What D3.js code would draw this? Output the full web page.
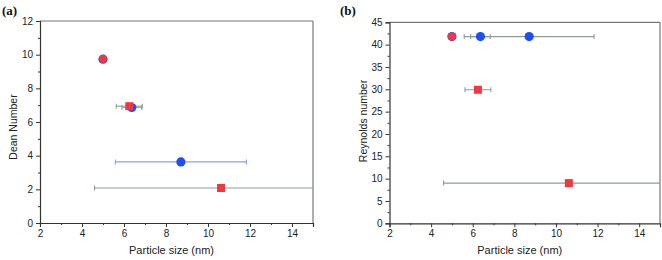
<!DOCTYPE html>
<html><head><meta charset="utf-8">
<script src="https://cdn.jsdelivr.net/npm/d3@7"></script>
<style>body{margin:0;background:#fff}svg{display:block}</style>
</head><body>
<svg id="c" width="662" height="260"></svg>
<script>
// ---- data ----
const panelTitles = ["(a)", "(b)"];
const yLabels = ["Dean Number", "Reynolds number"];
const xLabel = "Particle size (nm)";
const xTicks = [2, 4, 6, 8, 10, 12, 14];
const yTicksA = [0, 2, 4, 6, 8, 10, 12];
const yTicksB = [0, 5, 10, 15, 20, 25, 30, 35, 40, 45];

// blue series (circles): particle size, error low, error high
const blueSize = [5.0, 6.37, 8.71];
const blueLo   = [5.0, 5.9, 5.59];
const blueHi   = [5.0, 6.84, 11.83];
const blueDean = [9.73, 6.86, 3.63];
const blueRe   = [41.8, 41.8, 41.8];

// red series: particle size, error low, error high, marker shape
const redSize  = [5.0, 6.25, 10.62];
const redLo    = [5.0, 5.63, 4.6];
const redHi    = [5.0, 6.87, 16.64];
const redDean  = [9.75, 6.94, 2.08];
const redRe    = [41.8, 29.9, 9.0];
const redShape = ["circle", "square", "square"];

const svg = d3.select("#c");
const panels = [
  {l:40, r:313, t:21, b:223, yMax:12, yTicks:yTicksA, yMinor:1, blueY:blueDean, redY:redDean,
   blueErr:"#8da2e6", redErr:"#8c9c9c", title:[2,15], ylab:[13,127]},
  {l:389.5, r:660, t:22.3, b:223.3, yMax:45, yTicks:yTicksB, yMinor:2.5, blueY:blueRe, redY:redRe,
   blueErr:"#8c9c9c", redErr:"#8c9c9c", title:[340,15], ylab:[363,121]}
];

panels.forEach((p, i) => {
  const g = svg.append("g");
  const x = d3.scaleLinear().domain([2, 15]).range([p.l, p.r]);
  const y = d3.scaleLinear().domain([0, p.yMax]).range([p.b, p.t]);
  const clipId = "clip" + i;
  svg.append("clipPath").attr("id", clipId).append("rect")
    .attr("x", p.l).attr("y", p.t).attr("width", p.r - p.l).attr("height", p.b - p.t);

  // frame top/right
  g.append("line").attr("x1", p.l).attr("x2", p.r).attr("y1", p.t).attr("y2", p.t)
    .attr("stroke", "#777").attr("stroke-width", 1.2);
  g.append("line").attr("x1", p.r).attr("x2", p.r).attr("y1", p.t).attr("y2", p.b)
    .attr("stroke", "#777").attr("stroke-width", 1.2);

  // minor ticks
  const xMinor = d3.range(3, 15, 2);
  const yMin = d3.range(p.yMinor, p.yMax, p.yMinor).filter(v => !p.yTicks.includes(v));
  const xa = g.append("g").attr("transform", `translate(0,${p.b})`)
    .call(d3.axisBottom(x).tickValues(xTicks).tickSize(4).tickPadding(3).tickFormat(d3.format("d")));
  g.append("g").attr("transform", `translate(0,${p.b})`)
    .call(d3.axisBottom(x).tickValues(xMinor).tickSize(2).tickFormat(""))
    .select(".domain").remove();
  const ya = g.append("g").attr("transform", `translate(${p.l},0)`)
    .call(d3.axisLeft(y).tickValues(p.yTicks).tickSize(4).tickPadding(3).tickFormat(d3.format("d")));
  g.append("g").attr("transform", `translate(${p.l},0)`)
    .call(d3.axisLeft(y).tickValues(yMin).tickSize(2).tickFormat(""))
    .select(".domain").remove();
  g.selectAll(".domain").attr("stroke", "#333").attr("stroke-width", 1.2);
  g.selectAll(".tick line").attr("stroke", "#333");
  g.selectAll(".tick text").attr("font-family", "Liberation Sans, Arial, sans-serif")
    .attr("font-size", "10px").attr("fill", "#222");

  // labels
  g.append("text").attr("x", (p.l + p.r) / 2 - 5).attr("y", 254).attr("text-anchor", "middle")
    .attr("font-family", "Liberation Sans, Arial, sans-serif").attr("font-size", "11px")
    .attr("fill", "#222").text(xLabel);
  g.append("text").attr("transform", `translate(${p.ylab[0] + 4},${p.ylab[1]}) rotate(-90)`)
    .attr("text-anchor", "middle")
    .attr("font-family", "Liberation Sans, Arial, sans-serif").attr("font-size", "10.5px")
    .attr("fill", "#222").text(yLabels[i]);
  g.append("text").attr("x", p.title[0]).attr("y", p.title[1])
    .attr("font-family", "Liberation Serif, Times New Roman, serif").attr("font-weight", "bold")
    .attr("font-size", "13px").attr("fill", "#111").text(panelTitles[i]);

  const pg = g.append("g").attr("clip-path", `url(#${clipId})`);
  function errBars(sz, lo, hi, ys, col) {
    sz.forEach((s, k) => {
      if (hi[k] - lo[k] < 0.01) return;
      const yy = y(ys[k]);
      pg.append("line").attr("x1", x(lo[k])).attr("x2", x(hi[k])).attr("y1", yy).attr("y2", yy)
        .attr("stroke", col).attr("stroke-width", 1.1);
      [lo[k], hi[k]].forEach(v => {
        pg.append("line").attr("x1", x(v)).attr("x2", x(v)).attr("y1", yy - 2.5).attr("y2", yy + 2.5)
          .attr("stroke", col).attr("stroke-width", 1.1);
      });
    });
  }
  errBars(redSize, redLo, redHi, p.redY, p.redErr);
  errBars(blueSize, blueLo, blueHi, p.blueY, p.blueErr);

  // blue circles
  blueSize.forEach((s, k) => {
    pg.append("circle").attr("cx", x(s)).attr("cy", y(p.blueY[k])).attr("r", 4.6)
      .attr("fill", "#1f4ef5");
  });
  // red markers
  redSize.forEach((s, k) => {
    const cx = x(s), cy = y(p.redY[k]);
    if (redShape[k] === "circle") {
      pg.append("circle").attr("cx", cx).attr("cy", cy).attr("r", 4.0).attr("fill", "#f2383f");
    } else {
      pg.append("rect").attr("x", cx - 4).attr("y", cy - 4).attr("width", 8).attr("height", 8)
        .attr("fill", "#f2383f");
    }
  });
});
</script>
</body></html>
